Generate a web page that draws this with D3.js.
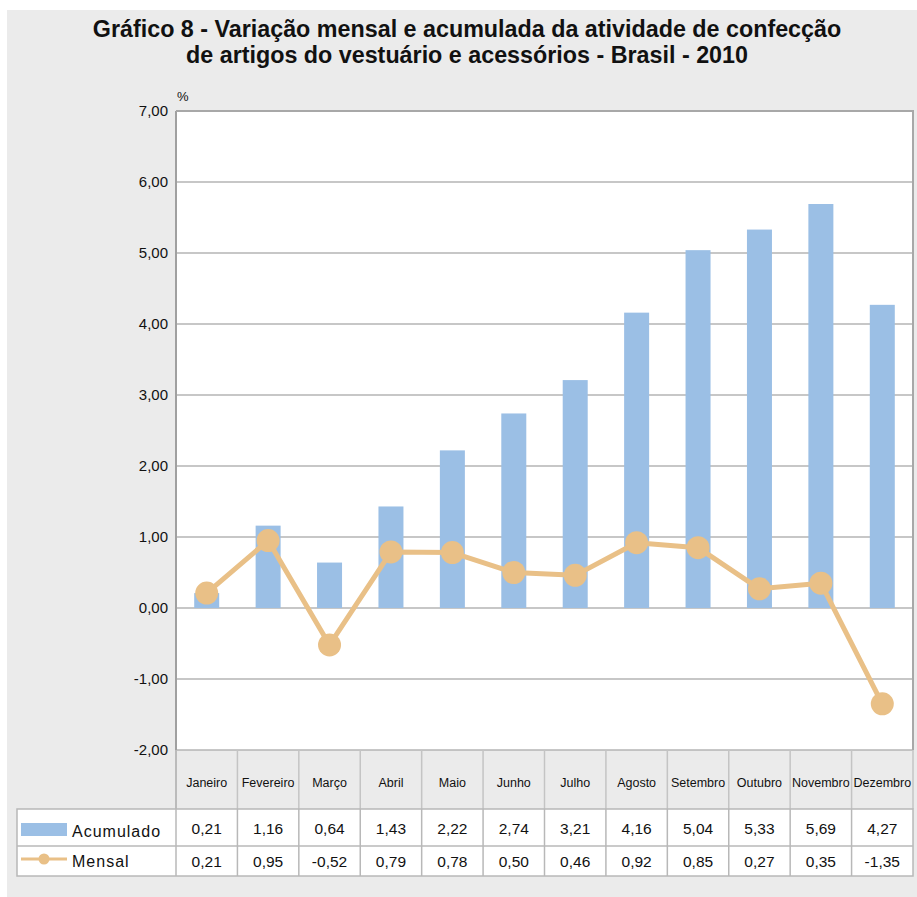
<!DOCTYPE html>
<html>
<head>
<meta charset="utf-8">
<script src="https://cdn.jsdelivr.net/npm/d3@7"></script>
<style>
  body { margin: 0; background: #fff; }
  text { font-family: "Liberation Sans", Arial, sans-serif; fill: #111; }
  .narrow { font-family: "Liberation Sans Narrow", "Liberation Sans", Arial, sans-serif; font-stretch: condensed; }
</style>
</head>
<body>
<script>
// data
const months = ['Janeiro', 'Fevereiro', 'Março', 'Abril', 'Maio', 'Junho', 'Julho', 'Agosto', 'Setembro', 'Outubro', 'Novembro', 'Dezembro'];
const acumulado = [0.21, 1.16, 0.64, 1.43, 2.22, 2.74, 3.21, 4.16, 5.04, 5.33, 5.69, 4.27];
const mensal = [0.21, 0.95, -0.52, 0.79, 0.78, 0.50, 0.46, 0.92, 0.85, 0.27, 0.35, -1.35];
const yTicks = [-2, -1, 0, 1, 2, 3, 4, 5, 6, 7];
const titleLines = [
  'Gráfico 8 - Variação mensal e acumulada da atividade de confecção',
  'de artigos do vestuário e acessórios - Brasil - 2010'
];

const width = 917, height = 897;
const plot = { left: 176, right: 913, top: 111, bottom: 750 };
const table = { left: 17, labelBottom: 809, row1: 846, row2: 876 };
const barColor = '#9bbfe5';
const lineColor = '#e9c087';
const fmt = v => d3.format('.2f')(v).replace('.', ',').replace('−', '-');

const svg = d3.select('body').append('svg')
  .attr('width', width)
  .attr('height', height);

// page background
svg.append('rect')
  .attr('x', 7).attr('y', 10)
  .attr('width', width - 7).attr('height', height - 10)
  .attr('fill', '#ebebeb');

// title
svg.append('g').selectAll('text')
  .data(titleLines)
  .enter().append('text')
  .attr('class', 'narrow')
  .attr('x', 467)
  .attr('y', (d, i) => 37 + i * 26)
  .attr('text-anchor', 'middle')
  .attr('font-size', 23.3)
  .attr('font-weight', 'bold')
  .text(d => d);

const x = d3.scaleBand(months, [plot.left, plot.right]).paddingInner(0).paddingOuter(0);
const y = d3.scaleLinear([-2, 7], [plot.bottom, plot.top]);

// plot area
svg.append('rect')
  .attr('x', plot.left).attr('y', plot.top)
  .attr('width', plot.right - plot.left).attr('height', plot.bottom - plot.top)
  .attr('fill', '#fff');

// grid
svg.append('g').selectAll('line')
  .data(yTicks)
  .enter().append('line')
  .attr('x1', plot.left).attr('x2', plot.right)
  .attr('y1', d => y(d)).attr('y2', d => y(d))
  .attr('stroke', '#b4b4b4')
  .attr('stroke-width', 1.5);

// y axis
const yAxis = svg.append('g')
  .attr('transform', `translate(${plot.left},0)`)
  .call(d3.axisLeft(y).tickValues(yTicks).tickFormat(fmt).tickSize(0).tickPadding(8));
yAxis.select('.domain').remove();
yAxis.selectAll('text')
  .attr('font-size', 15)
  .attr('font-family', '"Liberation Sans", Arial, sans-serif')
  .attr('fill', '#111');

svg.append('text')
  .attr('x', 177).attr('y', 101)
  .attr('font-size', 13)
  .text('%');

// border of plot
svg.append('line')
  .attr('x1', plot.left).attr('x2', plot.left)
  .attr('y1', plot.top).attr('y2', table.labelBottom)
  .attr('stroke', '#a0a0a0').attr('stroke-width', 2);
svg.append('path')
  .attr('d', `M${plot.left},${plot.top}H${plot.right}V${plot.bottom}`)
  .attr('fill', 'none')
  .attr('stroke', '#a8a8a8').attr('stroke-width', 2);

// bars
svg.append('g').selectAll('rect')
  .data(acumulado)
  .enter().append('rect')
  .attr('x', (d, i) => x(months[i]) + (x.bandwidth() - 25) / 2)
  .attr('y', d => y(Math.max(0, d)))
  .attr('width', 25)
  .attr('height', d => Math.abs(y(d) - y(0)))
  .attr('fill', barColor);

// line
const line = d3.line()
  .x((d, i) => x(months[i]) + x.bandwidth() / 2)
  .y(d => y(d));
svg.append('path')
  .datum(mensal)
  .attr('d', line)
  .attr('fill', 'none')
  .attr('stroke', lineColor)
  .attr('stroke-width', 5)
  .attr('stroke-linejoin', 'round');
svg.append('g').selectAll('circle')
  .data(mensal)
  .enter().append('circle')
  .attr('cx', (d, i) => x(months[i]) + x.bandwidth() / 2)
  .attr('cy', d => y(d))
  .attr('r', 11.5)
  .attr('fill', lineColor);

// category label row
const labelRow = svg.append('g');
labelRow.selectAll('line')
  .data(months.concat(['end']))
  .enter().append('line')
  .attr('x1', (d, i) => i < months.length ? x(d) : plot.right)
  .attr('x2', (d, i) => i < months.length ? x(d) : plot.right)
  .attr('y1', plot.bottom).attr('y2', table.labelBottom)
  .attr('stroke', '#c4c4c4').attr('stroke-width', 1.5);
labelRow.selectAll('text')
  .data(months)
  .enter().append('text')
  .attr('class', 'narrow')
  .attr('x', d => x(d) + x.bandwidth() / 2)
  .attr('y', 787)
  .attr('text-anchor', 'middle')
  .attr('font-size', 12.5)
  .text(d => d);

// data table
const rows = [
  { name: 'Acumulado', values: acumulado, top: table.labelBottom, bottom: table.row1 },
  { name: 'Mensal', values: mensal, top: table.row1, bottom: table.row2 }
];
const tg = svg.append('g');
tg.append('rect')
  .attr('x', table.left).attr('y', table.labelBottom)
  .attr('width', plot.right - table.left).attr('height', table.row2 - table.labelBottom)
  .attr('fill', '#fff')
  .attr('stroke', '#b8b8b8').attr('stroke-width', 1.5);
tg.append('line')
  .attr('x1', table.left).attr('x2', plot.right)
  .attr('y1', table.row1).attr('y2', table.row1)
  .attr('stroke', '#b8b8b8').attr('stroke-width', 1.5);
tg.selectAll('line.col')
  .data(months)
  .enter().append('line')
  .attr('class', 'col')
  .attr('x1', d => x(d)).attr('x2', d => x(d))
  .attr('y1', table.labelBottom).attr('y2', table.row2)
  .attr('stroke', '#b8b8b8').attr('stroke-width', 1.5);

rows.forEach(r => {
  const mid = (r.top + r.bottom) / 2;
  tg.append('g').selectAll('text')
    .data(r.values)
    .enter().append('text')
    .attr('x', (d, i) => x(months[i]) + x.bandwidth() / 2)
    .attr('y', mid + 6)
    .attr('text-anchor', 'middle')
    .attr('font-size', 15.5)
    .text(d => fmt(d));
  tg.append('text')
    .attr('x', 72)
    .attr('y', r.bottom - 9)
    .attr('font-size', 16)
    .attr('letter-spacing', 1)
    .text(r.name);
});

// legend keys
tg.append('rect')
  .attr('x', 21).attr('y', 823)
  .attr('width', 46).attr('height', 13)
  .attr('fill', barColor);
tg.append('line')
  .attr('x1', 21).attr('x2', 67)
  .attr('y1', 859).attr('y2', 859)
  .attr('stroke', lineColor).attr('stroke-width', 3);
tg.append('circle')
  .attr('cx', 44).attr('cy', 859).attr('r', 5.5)
  .attr('fill', lineColor);
</script>
</body>
</html>
